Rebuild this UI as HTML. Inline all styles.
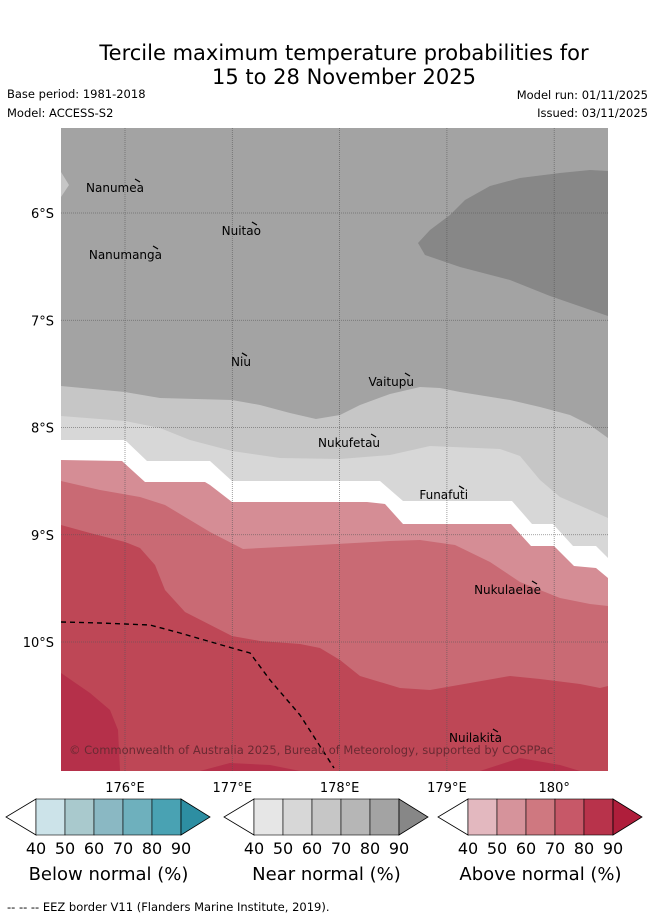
<!DOCTYPE html>
<html><head><meta charset="utf-8"><style>
body{margin:0;background:#fff;width:655px;height:919px;overflow:hidden;font-family:"DejaVu Sans","Liberation Sans",sans-serif}
svg{display:block}
</style></head><body>
<svg id="chart" width="655" height="919" viewBox="0 0 655 919">
<text x="344" y="60" font-size="21" text-anchor="middle" fill="#000">Tercile maximum temperature probabilities for</text>
<text x="344" y="84" font-size="21" text-anchor="middle" fill="#000">15 to 28 November 2025</text>
<text x="7" y="98" font-size="11.5">Base period: 1981-2018</text>
<text x="7" y="117" font-size="11.5">Model: ACCESS-S2</text>
<text x="648" y="99" font-size="11.5" text-anchor="end">Model run: 01/11/2025</text>
<text x="648" y="117" font-size="11.5" text-anchor="end">Issued: 03/11/2025</text>
<defs><clipPath id="mc"><rect x="61" y="128" width="547" height="643"/></clipPath></defs>
<g id="map" clip-path="url(#mc)">
<rect x="61" y="128" width="547" height="643" fill="#a3a3a3"/>
<polygon fill="#878787" points="608,171 590,170 560,173 520,178 490,186 465,200 450,215 430,230 418,243 425,255 460,267 510,280 550,296 608,316"/>
<polygon fill="#c6c6c6" points="61,172 69,185 61,197"/>
<polygon fill="#c6c6c6" points="61,386 125,392 160,398 232,400 260,405 290,413 316,419 340,415 360,405 390,394 420,387 440,388 460,392 510,400 540,407 570,415 590,425 608,438 608,771 61,771"/>
<polygon fill="#d7d7d7" points="61,416 125,421 160,428 190,440 232,451 280,458 340,459 390,455 430,446 500,449 520,456 540,480 560,497 590,510 608,518 608,771 61,771"/>
<polygon fill="#ffffff" points="61,440 125,440 147,461 210,461 232,481 380,481 403,501 512,501 532,524 553,524 573,546 596,546 608,558 608,771 61,771"/>
<polygon fill="#d58d95" points="61,460 122,461 145,482 205,482 210,485 232,502 367,502 385,504 403,524 511,524 531,546 554,546 574,566 596,568 608,578 608,771 61,771"/>
<polygon fill="#c96a74" points="61,481 100,490 140,497 165,505 210,532 243,549 300,546 390,541 420,540 455,545 490,562 520,582 560,598 590,604 608,606 608,771 61,771"/>
<polygon fill="#be4756" points="61,525 90,533 125,542 140,548 155,565 165,590 185,612 232,636 260,641 300,644 320,648 340,660 360,676 400,688 430,690 470,683 510,676 540,679 580,684 600,688 608,686 608,771 61,771"/>
<polygon fill="#b5304a" points="61,673 90,693 110,710 118,730 120,771 61,771"/>
<polygon fill="#b5304a" points="200,771 230,763 270,765 300,771"/>
<polygon fill="#b5304a" points="480,771 520,758 560,765 580,771"/>
<g id="grid" stroke="#555" stroke-width="0.8" stroke-dasharray="1,1" opacity="0.7"></g>
<polyline fill="none" stroke="#000" stroke-width="1.4" stroke-dasharray="5,4" points="61,622 100,623 150,625 180,633 232,648 250,653 270,680 300,715 334,768"/>
<g id="towns" font-size="12" fill="#000"></g>
<text x="69" y="754" font-size="11.5" fill="#6a2a33">© Commonwealth of Australia 2025, Bureau of Meteorology, supported by COSPPac</text>
</g>
<g id="axes" font-size="13" fill="#000"></g>
<g id="cbars"></g>
<text x="7" y="911" font-size="11.5">--  --  -- EEZ border V11 (Flanders Marine Institute, 2019).</text>
</svg>
<script>
const lonTicks=[176,177,178,179,180];
const lonLabels=["176°E","177°E","178°E","179°E","180°"];
const latTicks=[6,7,8,9,10];
const latLabels=["6°S","7°S","8°S","9°S","10°S"];
const townNames=["Nanumea","Nuitao","Nanumanga","Niu","Vaitupu","Nukufetau","Funafuti","Nukulaelae","Nuilakita"];
const townLon=[176.177,177.267,176.345,177.174,178.693,178.377,179.197,179.877,179.513];
const townLat=[-5.804,-6.205,-6.429,-7.426,-7.613,-8.182,-8.666,-9.552,-10.932];
const cbTicks=["40","50","60","70","80","90"];
const cbTitles=["Below normal (%)","Near normal (%)","Above normal (%)"];
const cbColors=[["#cce3e9","#a9c9cd","#8ab8c3","#6eb0bd","#49a2b3","#2d8ea2"],["#e6e6e6","#d7d7d7","#c6c6c6","#b6b6b6","#a3a3a3","#878787"],["#e3b8bf","#d6939b","#cf7880","#c75868","#b8334b","#af1e3b"]];
const NS="http://www.w3.org/2000/svg";
const xS=lon=>125+(lon-176)*107.3;
const yS=lat=>213+(-lat-6)*107.25;
function mk(t,a,p){const e=document.createElementNS(NS,t);for(const k in a)e.setAttribute(k,a[k]);p.appendChild(e);return e;}
const grid=document.getElementById('grid'),axes=document.getElementById('axes');
lonTicks.forEach((v,i)=>{const x=xS(v);
 const l=mk('line',{x1:x,y1:128,x2:x,y2:771},grid);
 
 
 const t=mk('text',{x:x,y:792,'text-anchor':'middle'},axes);t.textContent=lonLabels[i];
 
 });
latTicks.forEach((v,i)=>{const y=yS(-v);
 const l=mk('line',{x1:61,y1:y,x2:608,y2:y},grid);
 
 
 const t=mk('text',{x:54,y:y+5,'text-anchor':'end'},axes);t.textContent=latLabels[i];
 
 });
const towns=document.getElementById('towns');
townNames.forEach((n,i)=>{const x=xS(townLon[i]),y=yS(townLat[i]);
 const m=mk('path',{d:`M${x-9},${y-13} l5,3`,stroke:'#000','stroke-width':1.2,fill:'none'},towns);
 
 
 const t=mk('text',{x:x,y:y,'text-anchor':'end'},towns);t.textContent=n;
 
 });
const cb=document.getElementById('cbars');
const cbLeft=[36,254,468],cbW=29,cbTop=799,cbH=36;
cbLeft.forEach((x0,k)=>{
 const g=mk('g',{},cb);
 
 
 const lt=mk('polygon',{points:`${x0},${cbTop} ${x0-30},${cbTop+cbH/2} ${x0},${cbTop+cbH}`,fill:'#fff',stroke:'#000','stroke-width':0.8},g);
 
 
 for(let i=0;i<5;i++){const r=mk('rect',{x:x0+i*cbW,y:cbTop,width:cbW,height:cbH,fill:cbColors[k][i],stroke:'#000','stroke-width':0.6},g);
  
  }
 const xe=x0+5*cbW;
 const rt=mk('polygon',{points:`${xe},${cbTop} ${xe+29},${cbTop+cbH/2} ${xe},${cbTop+cbH}`,fill:cbColors[k][5],stroke:'#000','stroke-width':0.8},g);
 
 
 cbTicks.forEach((tv,i)=>{const t=mk('text',{x:x0+i*cbW,y:854,'font-size':16,'text-anchor':'middle'},g);t.textContent=tv;
  
  });
 const tt=mk('text',{x:x0+2.5*cbW,y:880,'font-size':18,'text-anchor':'middle'},g);tt.textContent=cbTitles[k];
 
 
});
</script>
</body></html>
